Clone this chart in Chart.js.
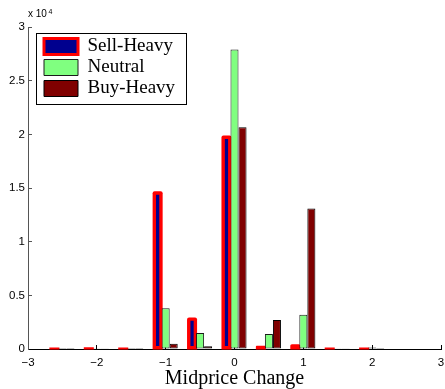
<!DOCTYPE html>
<html>
<head>
<meta charset="utf-8">
<script src="https://cdn.jsdelivr.net/npm/chart.js@4.4.1/dist/chart.umd.min.js"></script>
<style>
  html, body { margin: 0; padding: 0; background: #fff; }
  canvas { display: block; }
</style>
</head>
<body>
<canvas id="c" width="445" height="389"></canvas>
<script>
// Midprice change buckets (half-unit steps from -3 to 3)
const categories = ['-3', '-2.5', '-2', '-1.5', '-1', '-0.5', '0', '0.5', '1', '1.5', '2', '2.5', '3'];

// Counts per bucket for each order-flow regime
const sellHeavy = [null, 40, 60, 40, 14600, 2850, 19800, 200, 350, 40, 50, null, null];
const neutral   = [null, 10, 20, 10, 3800, 1500, 27900, 1400, 3200, 20, 150, null, null];
const buyHeavy  = [null, 10, 30, 10, 500, 250, 20650, 2700, 13100, 30, 100, null, null];

const seriesNames = ['Sell-Heavy', 'Neutral', 'Buy-Heavy'];

// Axis tick labels
const xTickLabels = ['\u22123', '\u22122', '\u22121', '0', '1', '2', '3'];
const yTickLabels = ['0', '0.5', '1', '1.5', '2', '2.5', '3'];

const SANS = '"Liberation Sans", Arial, sans-serif';
const SERIF = '"Liberation Serif", "Times New Roman", serif';

// Moves the legend into the upper-left corner of the plot and frames it
const legendFrame = {
  id: 'legendFrame',
  afterLayout(chart) {
    const lg = chart.legend;
    const ca = chart.chartArea;
    const pad = lg.options.labels.padding;
    lg.left = ca.left + 16 - pad;
    lg.top = ca.top + 10 - pad;
    lg.right = ca.right;
    lg.bottom = ca.bottom;
  },
  afterDraw(chart) {
    const lg = chart.legend;
    const boxes = lg.legendHitBoxes;
    if (!boxes || !boxes.length) return;
    let l = Infinity, t = Infinity, r = -Infinity, b = -Infinity;
    boxes.forEach(h => {
      l = Math.min(l, h.left); t = Math.min(t, h.top);
      r = Math.max(r, h.left + h.width); b = Math.max(b, h.top + h.height);
    });
    const ctx = chart.ctx;
    ctx.save();
    ctx.strokeStyle = '#000';
    ctx.lineWidth = 1;
    ctx.strokeRect(Math.round(l - 8.5) + 0.5, Math.round(t - 4.5) + 0.5,
                   Math.round(r - l + 19), Math.round(b - t + 10));
    ctx.restore();
  }
};

// Power-of-ten multiplier above the value axis
const exponentLabel = {
  id: 'exponentLabel',
  afterDraw(chart) {
    const { ctx, chartArea } = chart;
    ctx.save();
    ctx.fillStyle = '#000';
    ctx.textBaseline = 'alphabetic';
    ctx.textAlign = 'left';
    ctx.font = '10px ' + SANS;
    const base = 'x 10';
    ctx.fillText(base, chartArea.left, chartArea.top - 9.7);
    const w = ctx.measureText(base).width;
    ctx.font = '7px ' + SANS;
    ctx.fillText('4', chartArea.left + w + 1.5, chartArea.top - 13);
    ctx.restore();
  }
};

new Chart(document.getElementById('c'), {
  type: 'bar',
  data: {
    labels: categories,
    datasets: [
      {
        label: seriesNames[0], data: sellHeavy, stack: 'sell',
        backgroundColor: '#00008f', borderColor: '#ff0000',
        borderWidth: 2.4, borderSkipped: false, inflateAmount: 0, clip: false
      },
      {
        label: seriesNames[1], data: neutral, stack: 'neutral',
        backgroundColor: '#80ff80', borderColor: '#1a1a1a',
        borderWidth: 1, borderSkipped: false, inflateAmount: 0, clip: false
      },
      {
        label: seriesNames[2], data: buyHeavy, stack: 'buy',
        backgroundColor: '#800000', borderColor: '#000000',
        borderWidth: 1, borderSkipped: false, inflateAmount: 0, clip: false
      },
      {
        // thick red edge drawn underneath the Sell-Heavy bars
        label: seriesNames[0] + ' edge', data: sellHeavy, stack: 'sell',
        backgroundColor: '#ff0000', borderWidth: 0,
        inflateAmount: 1, borderRadius: 2, clip: false
      }
    ]
  },
  options: {
    responsive: false,
    animation: false,
    events: [],
    barPercentage: 1,
    categoryPercentage: 0.7,
    layout: { padding: { top: 27, right: 4, bottom: 0, left: 0 } },
    plugins: {
      tooltip: { enabled: false },
      legend: {
        position: 'chartArea',
        align: 'start',
        labels: {
          boxWidth: 34,
          boxHeight: 16,
          padding: 2,
          color: '#000',
          font: { family: SERIF, size: 19 },
          generateLabels: () => [
            { text: seriesNames[0], fillStyle: '#00008f', strokeStyle: '#ff0000', lineWidth: 3, hidden: false, datasetIndex: 0 },
            { text: seriesNames[1], fillStyle: '#80ff80', strokeStyle: '#1a1a1a', lineWidth: 1, hidden: false, datasetIndex: 1 },
            { text: seriesNames[2], fillStyle: '#800000', strokeStyle: '#000000', lineWidth: 1, hidden: false, datasetIndex: 2 }
          ]
        }
      }
    },
    scales: {
      x: {
        type: 'category',
        offset: false,
        grid: {
          offset: false,
          drawOnChartArea: false,
          tickLength: -4,
          tickColor: ctx => (ctx.index % 2 === 0 ? '#000' : 'rgba(0,0,0,0)')
        },
        border: { display: true, color: '#000', width: 1 },
        ticks: {
          autoSkip: false,
          maxRotation: 0,
          padding: 10.5,
          color: '#000',
          font: { family: SANS, size: 11.5 },
          callback: (v, i) => (i % 2 === 0 ? xTickLabels[i / 2] : '')
        },
        title: {
          display: true,
          text: 'Midprice Change',
          color: '#000',
          font: { family: SERIF, size: 20, lineHeight: 1 },
          padding: 0
        },
        afterFit: s => { s.height = 40; s.paddingLeft = 0; s.paddingRight = 0; }
      },
      y: {
        min: 0,
        max: 30000,
        stacked: false,
        grid: { drawOnChartArea: false, tickLength: -4, tickColor: '#555' },
        border: { display: true, color: '#555', width: 1 },
        ticks: {
          stepSize: 5000,
          padding: 7,
          color: '#000',
          font: { family: SANS, size: 11.5 },
          callback: (v, i) => yTickLabels[i]
        },
        afterFit: s => { s.width = 28; s.paddingTop = 0; s.paddingBottom = 0; }
      }
    }
  },
  plugins: [legendFrame, exponentLabel]
});
</script>
</body>
</html>
